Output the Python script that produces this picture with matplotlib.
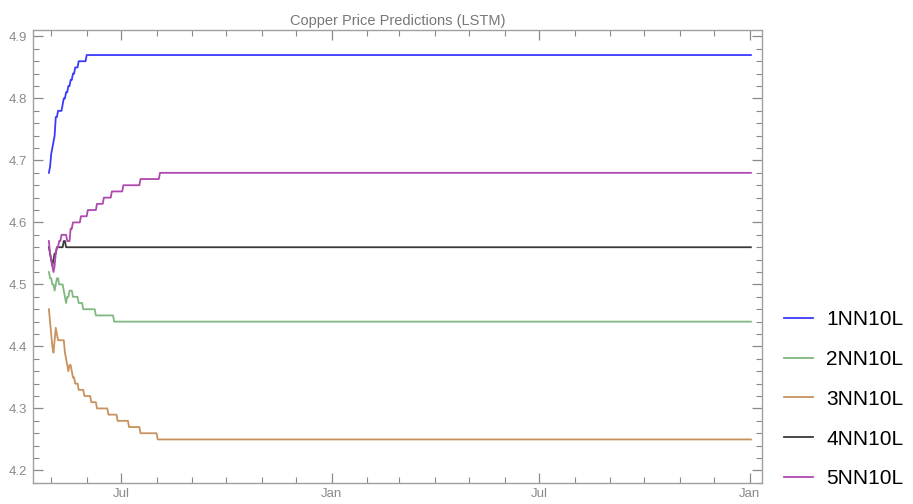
import numpy as np
import pandas as pd
import matplotlib
matplotlib.use('Agg')
from matplotlib import pyplot as plt
import matplotlib.dates as mdates
from matplotlib.ticker import MultipleLocator, AutoMinorLocator

plt.rcParams['font.family'] = ['Liberation Sans', 'DejaVu Sans']

# Prediction window.
start_date: str = '2021-04-29'
end_date: str = '2023-01-02'

labels: list[str] = ['1NN10L', '2NN10L', '3NN10L', '4NN10L', '5NN10L']
colors: list[str] = ['#3a3aff', '#80b880', '#c8925e', '#3a3a3a', '#b048b0']

# Daily predictions while the model settles: level and number of days it holds.
# The last level is held until the end of the window.
nn1_levels = [4.68, 4.69, 4.71, 4.72, 4.73, 4.74, 4.77, 4.78, 4.79, 4.80, 4.81, 4.82,
              4.83, 4.84, 4.85, 4.86, 4.87]
nn1_days = [1, 1, 1, 1, 1, 1, 2, 4, 1, 2, 2, 2, 2, 2, 3, 7]

nn2_levels = [4.52, 4.51, 4.50, 4.49, 4.50, 4.51, 4.50, 4.49, 4.48, 4.47, 4.48, 4.49,
              4.48, 4.47, 4.46, 4.45, 4.44]
nn2_days = [1, 2, 2, 1, 1, 2, 4, 1, 1, 1, 2, 3, 5, 4, 11, 16]

nn3_levels = [4.46, 4.44, 4.42, 4.40, 4.39, 4.41, 4.43, 4.42, 4.41, 4.39, 4.38, 4.37,
              4.36, 4.37, 4.36, 4.35, 4.34, 4.33, 4.32, 4.31, 4.30, 4.29, 4.28, 4.27,
              4.26, 4.25]
nn3_days = [1, 1, 1, 1, 1, 1, 1, 1, 6, 1, 1, 1, 1, 2, 1, 2, 3, 5, 6, 5, 10, 8, 10, 10, 15]

nn4_levels = [4.56, 4.55, 4.54, 4.53, 4.54, 4.55, 4.56, 4.57, 4.56]
nn4_days = [1, 1, 1, 1, 1, 2, 6, 2]

nn5_levels = [4.57, 4.55, 4.54, 4.53, 4.52, 4.53, 4.55, 4.56, 4.57, 4.58, 4.57, 4.59,
              4.60, 4.61, 4.62, 4.63, 4.64, 4.65, 4.66, 4.67, 4.68]
nn5_days = [1, 1, 1, 1, 1, 1, 1, 2, 2, 5, 3, 2, 7, 6, 8, 6, 7, 10, 15, 17]

dates = pd.date_range(start_date, end_date, freq='D')


def expand(levels: list[float], days: list[int]) -> np.ndarray:
    head = np.repeat(levels[:-1], days)
    tail = np.full(len(dates) - len(head), levels[-1])
    return np.concatenate([head, tail])


series = [expand(nn1_levels, nn1_days), expand(nn2_levels, nn2_days),
          expand(nn3_levels, nn3_days), expand(nn4_levels, nn4_days),
          expand(nn5_levels, nn5_days)]

fig = plt.figure(figsize=(9.13, 5.04), dpi=100)
ax = fig.add_axes([0.036, 0.042, 0.799, 0.898])

handles = []
for values, color, label in zip(series, colors, labels):
    (ln,) = ax.plot(dates, values, color=color, lw=1.3, label=label)
    handles.append(ln)

ax.set_xlim(pd.Timestamp('2021-04-15'), pd.Timestamp('2023-01-12'))
ax.set_ylim(4.18, 4.91)

ax.xaxis.set_major_locator(mdates.MonthLocator(bymonth=[1, 7]))
ax.xaxis.set_major_formatter(mdates.DateFormatter('%b'))
ax.xaxis.set_minor_locator(mdates.MonthLocator())
ax.yaxis.set_major_locator(MultipleLocator(0.1))
ax.yaxis.set_minor_locator(AutoMinorLocator(5))
ax.yaxis.set_major_formatter(plt.FuncFormatter(lambda v, p: f'{v:.1f}'))

grey = '#8a8a8a'
for side in ax.spines.values():
    side.set_color('#a0a0a0')
    side.set_linewidth(1.0)
ax.tick_params(which='both', direction='in', top=True, right=True, colors=grey,
               labelsize=9.5, labelcolor=grey)
ax.tick_params(which='major', length=7, width=0.9, pad=4)
ax.tick_params(which='minor', length=4, width=0.8)

ax.set_title('Copper Price Predictions (LSTM)', fontsize=10.5, color='#777777', pad=4)

fig.legend(handles=handles, labels=labels, loc='center left',
           bbox_to_anchor=(0.847, 0.208), frameon=False, fontsize=15,
           handlelength=1.4, handletextpad=0.65, labelspacing=1.0, borderpad=0)

fig.savefig('out.png', dpi=100)
